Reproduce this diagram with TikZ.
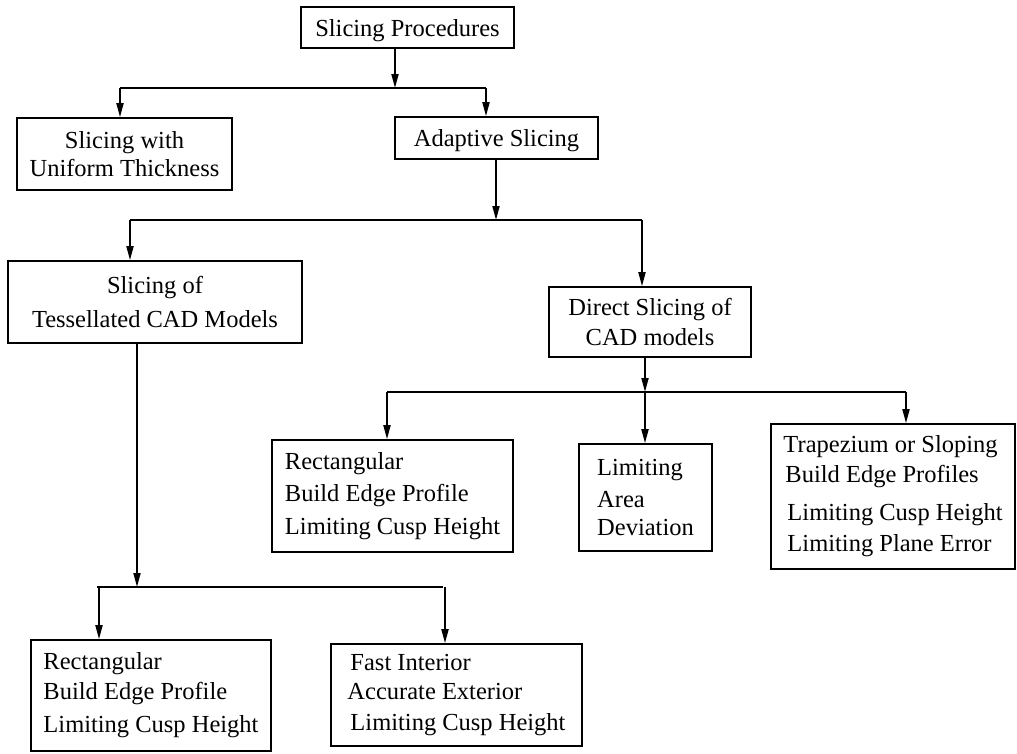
\documentclass[tikz,border=0pt]{standalone}
\usepackage{fontspec}
\setmainfont{Liberation Serif}
\usetikzlibrary{arrows.meta}
\tikzset{
  box/.style={draw, line width=1.6pt, inner sep=0pt, font=\fontsize{24.5}{28}\selectfont},
  lbox/.style={box, align=left},
  cbox/.style={box, align=center},
  conn/.style={line width=1.8pt},
  arr/.style={conn, -{Triangle[length=14pt,width=7pt]}}
}
\begin{document}
\begin{tikzpicture}[x=1pt,y=-1pt]
\useasboundingbox (0,0) rectangle (1017,753);
% boxes
\node[cbox, text depth=0pt, minimum width=213, minimum height=41] (sp) at (407.5,27.5) {Slicing Procedures};
\node[cbox, minimum width=215, minimum height=72] (uni) at (124.5,154) {Slicing with\\Uniform Thickness};
\node[cbox, text depth=0pt, minimum width=203, minimum height=42] (ada) at (496.5,138) {Adaptive Slicing};
\node[cbox, minimum width=294, minimum height=82] (tes) at (155,302) {Slicing of\\[6pt]Tessellated CAD Models};
\node[cbox, minimum width=202, minimum height=70] (dir) at (650,322) {Direct Slicing of\\[2pt]CAD models};
\node[lbox, minimum width=241, minimum height=112] (rect1) at (392.5,496) {Rectangular\\[4pt]Build Edge Profile\\[5pt]Limiting Cusp Height};
\node[lbox, minimum width=133, minimum height=107] (lim) at (645.5,497.5) {Limiting\\[4pt]Area\\Deviation};
\node[lbox, minimum width=244, minimum height=145] (trap) at (893,496.5) {Trapezium or Sloping\\[2pt]\hspace*{2pt}Build Edge Profiles\\[10pt]\hspace*{4pt}Limiting Cusp Height\\[3pt]\hspace*{4pt}Limiting Plane Error};
\node[lbox, minimum width=240, minimum height=111] (rect2) at (151,695.5) {Rectangular\\[2pt]Build Edge Profile\\[5pt]Limiting Cusp Height};
\node[lbox, minimum width=251, minimum height=102] (fast) at (456.5,695) {\hspace*{3pt}Fast Interior\\[1pt]Accurate Exterior\\[3pt]\hspace*{3pt}Limiting Cusp Height};
% junction coordinates
\coordinate (j1) at (395,88);
\coordinate (j1l) at (120,88);
\coordinate (j1r) at (486,88);
\coordinate (j2) at (496,220);
\coordinate (j2l) at (130,220);
\coordinate (j2r) at (642,220);
\coordinate (j3) at (645,392);
\coordinate (j3l) at (387,392);
\coordinate (j3r) at (906,392);
\coordinate (j4) at (137,587);
\coordinate (j4l) at (97,587);
\coordinate (j4r) at (443,587);
\coordinate (j4a) at (99,587);
\coordinate (j4b) at (445,587);
% level 1
\draw[arr] (sp.south -| j1) -- (j1);
\draw[conn] (j1l) -- (j1r);
\draw[arr] (j1l) -- (uni.north -| j1l);
\draw[arr] (j1r) -- (ada.north -| j1r);
% level 2
\draw[arr] (ada.south -| j2) -- (j2);
\draw[conn] (j2l) -- (j2r);
\draw[arr] (j2l) -- (tes.north -| j2l);
\draw[arr] (j2r) -- (dir.north -| j2r);
% level 3 (direct)
\draw[arr] (dir.south -| j3) -- (j3);
\draw[conn] (j3l) -- (j3r);
\draw[arr] (j3l) -- (rect1.north -| j3l);
\draw[arr] (j3) -- (lim.north -| j3);
\draw[arr] (j3r) -- (trap.north -| j3r);
% level 3 (tessellated)
\draw[arr] (tes.south -| j4) -- (j4);
\draw[conn] (j4l) -- (j4r);
\draw[arr] (j4a) -- (rect2.north -| j4a);
\draw[arr] (j4b) -- (fast.north -| j4b);
\end{tikzpicture}
\end{document}
